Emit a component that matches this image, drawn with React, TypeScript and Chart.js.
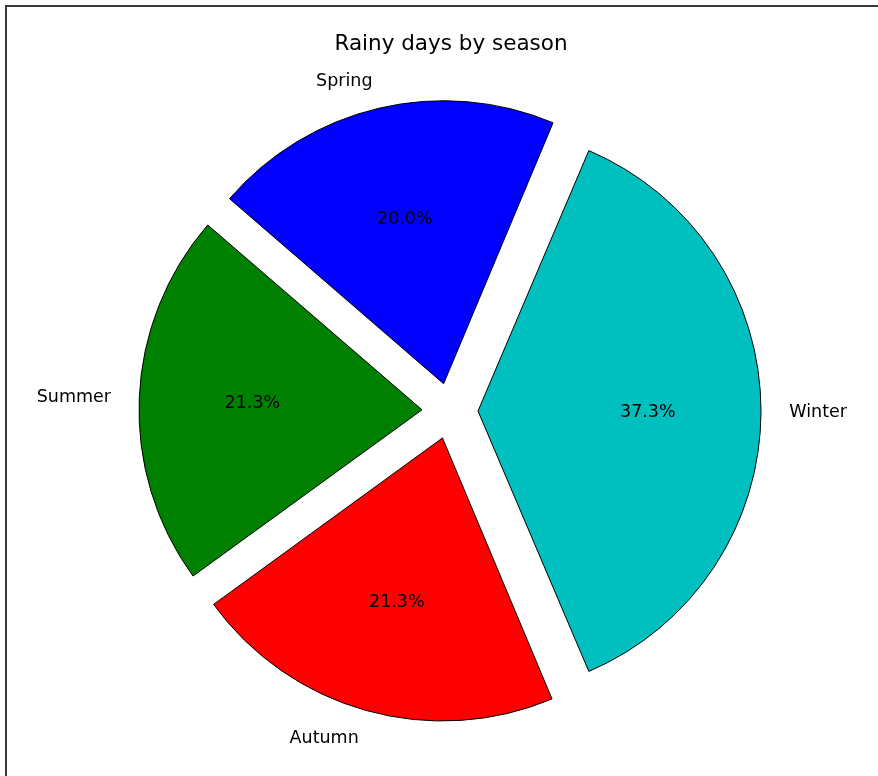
import React, { useEffect, useRef } from 'react';
import { Chart, registerables } from 'chart.js';

Chart.register(...registerables);

const TITLE = 'Rainy days by season';
const SEASONS = ['Spring', 'Summer', 'Autumn', 'Winter'];
const RAINY_DAYS = [15, 16, 16, 28];
const SEASON_COLORS = ['#0000ff', '#008000', '#ff0000', '#00bfbf'];

const W = 878;
const H = 776;
const RADIUS = 283;
const EXPLODE = 28; // pixel shift of each exploded slice
const START_ROTATION = 22.8; // degrees, clockwise from top
const FONT = '"DejaVu Sans", "Liberation Sans", sans-serif';

export default function App() {
  const ref = useRef<HTMLCanvasElement>(null);

  useEffect(() => {
    const canvas = ref.current;
    if (!canvas) return;
    // matplotlib lays wedges counter-clockwise, Chart.js clockwise: reverse order
    const order = SEASONS.map((_, i) => SEASONS.length - 1 - i);
    const labels = order.map((i) => SEASONS[i]);
    const data = order.map((i) => RAINY_DAYS[i]);
    const colors = order.map((i) => SEASON_COLORS[i]);
    const total = data.reduce((a, b) => a + b, 0);

    // Chart.js enlarges offset arcs by offset*(1-sin(circumference)); undo that.
    const radiusFix = {
      id: 'radiusFix',
      beforeDatasetDraw(chart: any) {
        const meta = chart.getDatasetMeta(0);
        const base = meta.controller.outerRadius;
        meta.data.forEach((arc: any) => {
          const fix = 1 - Math.sin(Math.min(Math.PI, arc.circumference));
          arc.outerRadius = base - EXPLODE * fix;
        });
      },
    };

    const textPlugin = {
      id: 'pieText',
      afterDraw(chart: any) {
        const ctx = chart.ctx as CanvasRenderingContext2D;
        const meta = chart.getDatasetMeta(0);
        const R = meta.controller.outerRadius;
        const area = chart.chartArea;
        ctx.save();
        ctx.fillStyle = '#000';
        ctx.textBaseline = 'middle';
        ctx.textAlign = 'center';
        ctx.font = `21.5px ${FONT}`;
        ctx.fillText(TITLE, (area.left + area.right) / 2 + 1, 44);
        meta.data.forEach((arc: any, i: number) => {
          const mid = (arc.startAngle + arc.endAngle) / 2;
          const c = Math.cos(mid);
          const s = Math.sin(mid);
          const cx = arc.x + c * EXPLODE;
          const cy = arc.y + s * EXPLODE;
          ctx.font = `17.5px ${FONT}`;
          ctx.textAlign = 'center';
          const pct = ((data[i] / total) * 100).toFixed(1) + '%';
          ctx.fillText(pct, cx + c * R * 0.6, cy + s * R * 0.6 + 1);
          ctx.font = `17.5px ${FONT}`;
          ctx.textAlign = c >= 0 ? 'left' : 'right';
          ctx.fillText(labels[i], cx + c * R * 1.1, cy + s * R * 1.1 + 1);
        });
        ctx.restore();
      },
    };

    const chart = new Chart(canvas, {
      type: 'pie',
      data: {
        labels,
        datasets: [
          {
            data,
            backgroundColor: colors,
            borderColor: '#000000',
            borderWidth: 1,
            offset: EXPLODE * 4,
            hoverOffset: EXPLODE * 4,
            rotation: START_ROTATION,
            radius: RADIUS,
            clip: false,
          } as any,
        ],
      },
      options: {
        responsive: false,
        animation: false,
        rotation: START_ROTATION,
        radius: RADIUS,
        events: [],
        layout: { padding: { left: 22, top: 46, right: 0, bottom: 0 } },
        plugins: {
          legend: { display: false },
          tooltip: { enabled: false },
          title: { display: false },
        },
      } as any,
      plugins: [radiusFix, textPlugin],
    });
    return () => chart.destroy();
  }, []);

  return (
    <>
      <canvas
        ref={ref}
        width={W}
        height={H}
        style={{ position: 'fixed', left: 0, top: 0, width: W, height: H, background: '#fff' }}
      />
      <div
        style={{
          position: 'fixed',
          left: 5,
          top: 5,
          width: 900,
          height: 800,
          borderLeft: '2px solid #3a3a3a',
          borderTop: '2px solid #3a3a3a',
          pointerEvents: 'none',
        }}
      />
    </>
  );
}
